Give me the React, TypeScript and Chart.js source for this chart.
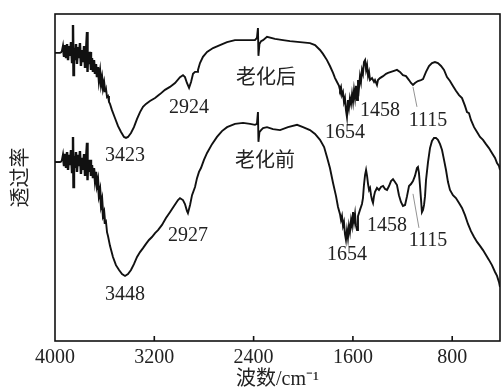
import React, { useEffect, useRef } from "react";
import { Chart, registerables } from "chart.js";
Chart.register(...registerables);

// Axis ticks (wavenumber, cm-1) and the single inner y tick (transmittance, a.u.)
const X_TICKS = [4000, 3200, 2400, 1600, 800];
const Y_TICKS = [54.7];
const X_MIN = 415;
const X_MAX = 4000;

// 老化后 (after ageing) spectrum
const AFTER_WN = [
  4000, 3976, 3960, 3944, 3936, 3927, 3919, 3911, 3903, 3895, 3887, 3879, 3871, 3863, 3855, 3851, 3847, 3839, 3831, 3823,
  3815, 3807, 3799, 3791, 3782, 3774, 3766, 3758, 3750, 3742, 3738, 3734, 3726, 3718, 3710, 3702, 3694, 3686, 3678, 3670,
  3662, 3654, 3646, 3637, 3629, 3621, 3613, 3605, 3597, 3589, 3581, 3573, 3565, 3557, 3541, 3517, 3492, 3468, 3444, 3428,
  3412, 3388, 3364, 3339, 3315, 3291, 3267, 3235, 3194, 3154, 3114, 3074, 3033, 2993, 2969, 2953, 2937, 2920, 2904, 2888,
  2872, 2856, 2848, 2832, 2808, 2775, 2727, 2671, 2614, 2550, 2485, 2429, 2389, 2373, 2365, 2361, 2353, 2340, 2324, 2292,
  2228, 2163, 2107, 2026, 1946, 1905, 1865, 1841, 1809, 1785, 1760, 1744, 1728, 1712, 1704, 1696, 1688, 1680, 1672, 1664,
  1656, 1648, 1640, 1632, 1624, 1615, 1607, 1599, 1591, 1583, 1575, 1567, 1559, 1551, 1543, 1535, 1527, 1519, 1511, 1502,
  1494, 1486, 1478, 1470, 1462, 1446, 1430, 1422, 1406, 1398, 1382, 1357, 1333, 1317, 1293, 1269, 1245, 1221, 1197, 1172,
  1148, 1132, 1116, 1100, 1076, 1052, 1035, 1011, 987, 963, 939, 915, 890, 866, 842, 818, 794, 770, 745, 721,
  697, 681, 665, 649, 624, 600, 576, 552, 528, 504, 480, 455, 439, 423, 415,
];
const AFTER_T = [
  88.1, 88.1, 88.1, 88.4, 89.9, 86.9, 90.5, 86.5, 90.8, 85.9, 90.2, 87.2, 91.4, 85.3, 96.6, 81.3, 89.6, 85.9, 90.8, 84.7,
  89.9, 86.5, 91.1, 84.1, 89.0, 85.3, 90.2, 83.5, 88.4, 94.5, 82.3, 87.5, 84.7, 88.4, 82.9, 86.5, 82.3, 85.9, 81.7, 84.7,
  80.7, 83.8, 79.8, 82.3, 78.6, 80.4, 77.4, 78.9, 76.1, 77.1, 74.6, 74.9, 73.1, 72.5, 70.6, 68.2, 65.7, 63.9, 62.4, 62.1,
  62.4, 63.6, 65.4, 67.9, 70.0, 71.6, 72.5, 73.4, 74.3, 75.5, 76.8, 77.7, 78.9, 80.7, 81.3, 80.7, 78.9, 77.4, 79.2, 81.7,
  82.3, 82.3, 82.9, 85.0, 86.9, 88.4, 89.6, 90.5, 91.4, 92.0, 92.0, 92.0, 92.0, 92.7, 95.7, 87.2, 90.8, 91.7, 92.0, 93.0,
  92.4, 92.0, 91.7, 91.4, 91.1, 90.5, 89.0, 87.8, 85.9, 84.1, 82.0, 80.4, 79.2, 78.0, 76.8, 77.7, 75.2, 76.1, 73.1, 74.3,
  70.6, 68.5, 73.7, 71.3, 74.3, 72.5, 75.5, 73.1, 76.8, 74.3, 78.0, 73.7, 79.8, 77.4, 81.0, 79.2, 82.9, 81.7, 85.3, 85.9,
  82.9, 84.4, 81.0, 82.3, 79.8, 80.4, 79.2, 79.8, 78.3, 79.8, 80.4, 81.0, 81.7, 82.0, 82.3, 82.6, 82.9, 82.3, 81.3, 81.0,
  79.8, 78.9, 78.3, 78.9, 79.5, 79.8, 80.1, 82.3, 84.1, 85.0, 85.3, 85.0, 84.1, 82.9, 80.7, 79.5, 78.0, 76.5, 75.2, 74.3,
  71.9, 70.0, 69.7, 67.6, 65.4, 63.9, 62.4, 61.5, 60.2, 59.0, 57.5, 56.0, 54.4, 53.5, 52.3,
];

// 老化前 (before ageing) spectrum
const BEFORE_WN = [
  4000, 3976, 3960, 3944, 3936, 3927, 3919, 3911, 3903, 3895, 3887, 3879, 3871, 3863, 3855, 3851, 3847, 3839, 3831, 3823,
  3815, 3807, 3799, 3791, 3782, 3774, 3766, 3758, 3750, 3742, 3738, 3734, 3726, 3718, 3710, 3702, 3694, 3686, 3678, 3670,
  3662, 3654, 3646, 3637, 3629, 3621, 3613, 3605, 3597, 3589, 3581, 3573, 3557, 3533, 3509, 3484, 3460, 3436, 3412, 3388,
  3364, 3339, 3315, 3291, 3267, 3243, 3219, 3194, 3170, 3138, 3106, 3074, 3041, 3009, 2993, 2969, 2953, 2937, 2929, 2912,
  2896, 2872, 2856, 2840, 2824, 2800, 2775, 2735, 2695, 2655, 2614, 2550, 2485, 2429, 2389, 2373, 2365, 2361, 2353, 2340,
  2324, 2292, 2244, 2187, 2123, 2050, 2002, 1946, 1905, 1865, 1832, 1809, 1785, 1760, 1736, 1720, 1704, 1696, 1688, 1680,
  1672, 1664, 1656, 1648, 1640, 1632, 1624, 1615, 1607, 1599, 1591, 1583, 1575, 1567, 1559, 1543, 1527, 1519, 1511, 1502,
  1494, 1486, 1478, 1470, 1462, 1454, 1446, 1438, 1430, 1422, 1406, 1390, 1374, 1357, 1341, 1325, 1309, 1293, 1277, 1261,
  1245, 1229, 1213, 1197, 1180, 1164, 1148, 1132, 1116, 1100, 1084, 1076, 1068, 1060, 1052, 1044, 1035, 1027, 1019, 1011,
  995, 979, 963, 947, 931, 915, 898, 882, 866, 850, 834, 818, 794, 770, 745, 721, 697, 673, 649, 624,
  600, 576, 552, 528, 504, 480, 455, 439, 423, 415,
];
const BEFORE_T = [
  54.7, 54.7, 54.7, 55.0, 56.6, 53.5, 57.2, 52.9, 57.8, 52.3, 56.9, 53.8, 58.4, 51.7, 62.4, 47.1, 56.6, 52.9, 57.8, 51.7,
  56.9, 53.5, 58.1, 51.1, 56.0, 52.3, 57.2, 50.5, 55.4, 60.6, 49.2, 54.7, 51.7, 55.4, 50.5, 53.8, 49.8, 52.9, 49.2, 51.7,
  47.7, 49.2, 44.6, 46.2, 41.6, 43.1, 38.5, 39.4, 35.8, 36.4, 33.3, 32.1, 29.1, 25.7, 23.2, 21.7, 20.5, 19.9, 20.5, 21.7,
  23.5, 25.7, 27.2, 28.4, 29.7, 30.9, 31.8, 33.0, 33.9, 35.5, 37.6, 39.4, 41.3, 43.1, 43.7, 43.1, 41.9, 39.8, 39.1, 41.6,
  44.6, 47.1, 49.8, 51.7, 52.9, 55.4, 57.5, 60.2, 62.4, 64.2, 65.4, 66.4, 66.7, 66.4, 66.1, 66.4, 70.0, 60.9, 63.9, 64.5,
  65.1, 65.4, 64.8, 64.5, 65.4, 66.1, 65.4, 64.5, 63.3, 61.5, 59.3, 56.3, 52.9, 48.3, 44.3, 41.0, 38.8, 37.0, 38.2, 35.2,
  36.4, 32.7, 30.9, 33.9, 31.5, 35.2, 33.3, 37.0, 35.2, 39.4, 36.4, 38.8, 35.2, 33.9, 38.2, 40.1, 41.9, 43.7, 47.7, 50.8,
  52.3, 50.5, 48.0, 46.2, 46.8, 44.6, 43.1, 42.2, 44.3, 45.6, 46.8, 46.2, 47.1, 47.4, 46.5, 46.2, 47.4, 48.9, 49.5, 48.6,
  47.7, 44.6, 42.5, 41.3, 41.6, 44.3, 47.4, 48.0, 48.9, 50.5, 52.9, 53.2, 51.4, 47.7, 43.7, 39.4, 40.1, 41.6, 44.3, 49.2,
  54.7, 59.0, 61.2, 62.1, 62.1, 61.5, 60.2, 58.4, 55.4, 52.3, 48.6, 46.2, 44.6, 43.7, 42.2, 40.7, 38.5, 35.8, 33.6, 31.8,
  30.3, 29.1, 27.8, 26.3, 24.8, 23.2, 21.1, 19.9, 18.0, 16.5,
];

// Peak annotations (text, anchor wavenumber, anchor transmittance)
const NOTE_TEXT = ["3423", "2924", "老化后", "1654", "1458", "1115", "3448", "2927", "老化前", "1654", "1458", "1115"];
const NOTE_WN = [3436, 2920, 2300, 1664, 1382, 995, 3436, 2929, 2308, 1648, 1325, 995];
const NOTE_T = [56.6, 71.3, 80.1, 63.6, 70.3, 67.3, 14.1, 32.1, 54.7, 26.3, 35.2, 30.6];

// Leader lines for the 1115 labels
const LEADER_WN1 = [1116, 1116];
const LEADER_T1 = [77.7, 45.0];
const LEADER_WN2 = [1084, 1068];
const LEADER_T2 = [71.6, 34.6];

// Noisy O-H region boundary (wavenumber) drawn with a heavier stroke
const NOISY_FROM = 3600;

const X_TITLE = "波数/cm⁻¹";
const Y_TITLE = "透过率";

const FONT_FAMILY = "'Liberation Serif', 'Noto Sans CJK SC', serif";
const INK = "#111";

const framePlugin = {
  id: "frame",
  afterDraw(chart: any) {
    const { ctx, chartArea: a, scales } = chart;
    const xs = scales.x;
    const ys = scales.y;
    ctx.save();
    ctx.strokeStyle = INK;
    ctx.lineWidth = 1.6;
    ctx.strokeRect(a.left, a.top, a.right - a.left, a.bottom - a.top);
    ctx.beginPath();
    X_TICKS.forEach((v) => {
      const px = xs.getPixelForValue(v);
      if (px > a.left + 2 && px < a.right - 2) {
        ctx.moveTo(px, a.bottom);
        ctx.lineTo(px, a.bottom - 5);
      }
    });
    Y_TICKS.forEach((v) => {
      const py = ys.getPixelForValue(v);
      ctx.moveTo(a.left, py);
      ctx.lineTo(a.left + 5, py);
    });
    ctx.stroke();

    ctx.strokeStyle = "#777";
    ctx.lineWidth = 0.8;
    ctx.beginPath();
    LEADER_WN1.forEach((w, i) => {
      ctx.moveTo(xs.getPixelForValue(w), ys.getPixelForValue(LEADER_T1[i]));
      ctx.lineTo(xs.getPixelForValue(LEADER_WN2[i]), ys.getPixelForValue(LEADER_T2[i]));
    });
    ctx.stroke();

    ctx.fillStyle = "#222";
    ctx.textAlign = "center";
    ctx.textBaseline = "middle";
    ctx.font = `20px ${FONT_FAMILY}`;
    NOTE_TEXT.forEach((t, i) => {
      ctx.fillText(t, xs.getPixelForValue(NOTE_WN[i]), ys.getPixelForValue(NOTE_T[i]));
    });
    ctx.restore();
  },
};

const segmentStyle = {
  borderWidth: (c: any) => (c.p0.parsed.x > NOISY_FROM && c.p0.parsed.x < 3960 ? 2.4 : 1.9),
};

export default function App() {
  const ref = useRef<HTMLCanvasElement | null>(null);
  useEffect(() => {
    if (!ref.current) return;
    const chart = new Chart(ref.current, {
      type: "line",
      data: {
        datasets: [
          {
            label: "老化后",
            data: AFTER_WN.map((w, i) => ({ x: w, y: AFTER_T[i] })),
            borderColor: INK,
            borderWidth: 1.9,
            pointRadius: 0,
            tension: 0,
            fill: false,
            segment: segmentStyle,
          },
          {
            label: "老化前",
            data: BEFORE_WN.map((w, i) => ({ x: w, y: BEFORE_T[i] })),
            borderColor: INK,
            borderWidth: 1.9,
            pointRadius: 0,
            tension: 0,
            fill: false,
            segment: segmentStyle,
          },
        ],
      },
      options: {
        animation: false,
        responsive: false,
        maintainAspectRatio: false,
        layout: { padding: { top: 14, right: 2, left: 0, bottom: 0 } },
        plugins: { legend: { display: false }, tooltip: { enabled: false } },
        scales: {
          x: {
            type: "linear",
            reverse: true,
            min: X_MIN,
            max: X_MAX,
            afterBuildTicks: (s: any) => {
              s.ticks = X_TICKS.map((v) => ({ value: v }));
            },
            afterFit: (s: any) => {
              s.height = 50;
            },
            grid: { display: false, drawTicks: false },
            border: { display: false },
            ticks: {
              color: "#222",
              font: { family: FONT_FAMILY, size: 20 },
              padding: 5,
              maxRotation: 0,
              autoSkip: false,
              callback: (v: any) => String(v),
            },
            title: {
              display: true,
              text: X_TITLE,
              color: "#222",
              font: { family: FONT_FAMILY, size: 20 },
              padding: { top: 0, bottom: -1 },
            },
          },
          y: {
            type: "linear",
            min: 0,
            max: 100,
            afterFit: (s: any) => {
              s.width = 55;
            },
            grid: { display: false, drawTicks: false },
            border: { display: false },
            ticks: { display: false },
            title: {
              display: true,
              text: Y_TITLE,
              color: "#222",
              font: { family: FONT_FAMILY, size: 20 },
              padding: { top: 10, bottom: 0 },
            },
          },
        },
      },
      plugins: [framePlugin],
    });
    return () => chart.destroy();
  }, []);
  return (
    <div style={{ position: "absolute", left: 0, top: 0, width: 502, height: 391, background: "#fff" }}>
      <canvas ref={ref} width={502} height={391} style={{ display: "block" }} />
    </div>
  );
}
